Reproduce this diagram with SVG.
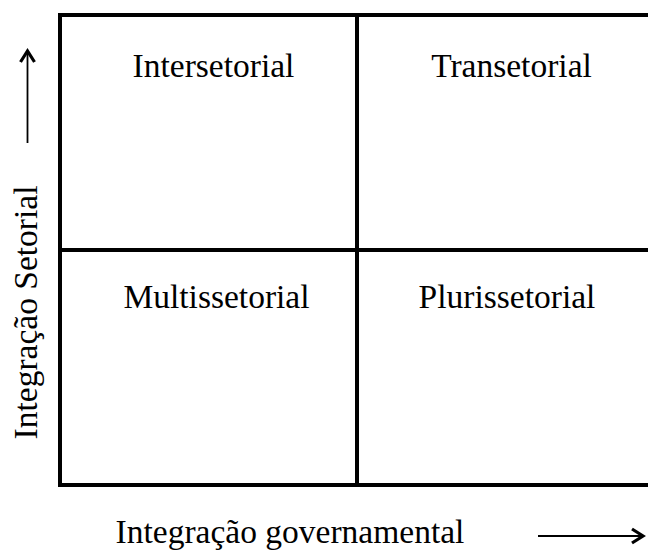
<svg xmlns="http://www.w3.org/2000/svg" width="648" height="550" viewBox="0 0 648 550">
<style>
.grid{stroke:#000;stroke-width:4;fill:none}
.lbl{font-family:"Liberation Serif","Times New Roman",serif;font-size:33.5px;fill:#000;text-anchor:middle}
.axis{stroke:#000;stroke-width:1.8;fill:none}
.head{stroke:#000;stroke-width:3.2;fill:none;stroke-linejoin:miter}
</style>
<rect width="648" height="550" fill="#fff"/>
<g id="grid">
<path class="grid" d="M660 15 H60 V485 H660"/>
<path class="grid" d="M357 15 V485"/>
<path class="grid" d="M60 250 H660"/>
</g>
<g id="intersetorial"><text class="lbl" x="213.5" y="77">Intersetorial</text></g>
<g id="transetorial"><text class="lbl" x="511.5" y="77">Transetorial</text></g>
<g id="multissetorial"><text class="lbl" x="216.5" y="308">Multissetorial</text></g>
<g id="plurissetorial"><text class="lbl" x="507" y="308">Plurissetorial</text></g>
<g id="axis-y"><text class="lbl" transform="translate(37 312.5) rotate(-90)">Integração Setorial</text></g>
<g id="axis-x"><text class="lbl" x="290" y="543">Integração governamental</text></g>
<g id="connectors">
<path class="axis" d="M27.5 143 V51"/>
<path class="head" d="M20.5 62 L27.5 51 L34.5 62"/>
<path class="axis" d="M538 536 H643"/>
<path class="head" d="M632 529 L643 536 L632 543"/>
</g>
</svg>
